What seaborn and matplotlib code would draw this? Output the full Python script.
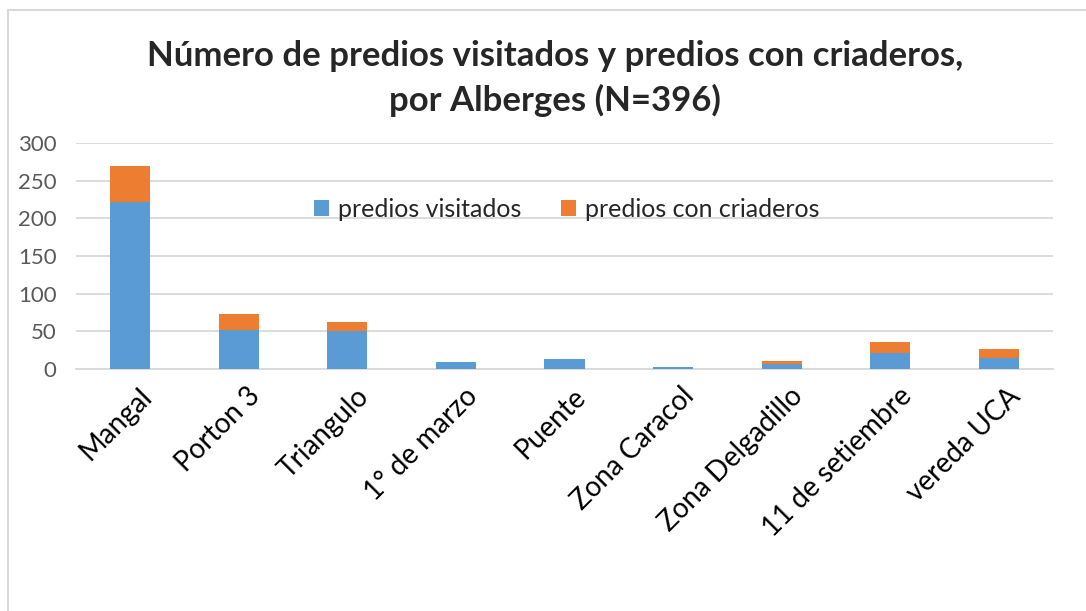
import numpy as np
import pandas as pd
import seaborn as sns
import matplotlib.pyplot as plt
from matplotlib.patches import Rectangle
from matplotlib.transforms import ScaledTranslation

albergues = ["Mangal", "Porton 3", "Triangulo", "1° de marzo", "Puente",
             "Zona Caracol", "Zona Delgadillo", "11 de setiembre", "vereda UCA"]
visitados = [222, 52, 51, 9, 13, 3, 6, 21, 14]
criaderos = [47, 21, 12, 0, 0, 0, 5, 15, 12]

azul = "#5b9bd5"
naranja = "#ed7d31"

sns.set_theme(style="white")
plt.rcParams['font.family'] = ['Lato', 'DejaVu Sans']

df = pd.DataFrame({"albergue": albergues, "visitados": visitados, "criaderos": criaderos})
df["total"] = df["visitados"] + df["criaderos"]

fig = plt.figure(figsize=(10.86, 6.11), dpi=100)
ax = fig.add_axes([76 / 1086, 1 - 369 / 611, 977 / 1086, 226 / 611])

# stacked: draw total first (orange), then the visited part on top of it
sns.barplot(data=df, x="albergue", y="total", color=naranja, width=0.37,
            saturation=1, linewidth=0, ax=ax, label="predios con criaderos")
sns.barplot(data=df, x="albergue", y="visitados", color=azul, width=0.37,
            saturation=1, linewidth=0, ax=ax, label="predios visitados")

ax.set_ylim(0, 300)
ax.set_yticks(np.arange(0, 301, 50))
ax.yaxis.grid(True, color="#d9d9d9", linewidth=1.3)
ax.set_axisbelow(True)
for s in ["top", "right", "left"]:
    ax.spines[s].set_visible(False)
ax.spines["bottom"].set_color("#d9d9d9")
ax.spines["bottom"].set_linewidth(1.3)
ax.spines["bottom"].set_zorder(0.5)
ax.set_xlabel("")
ax.set_ylabel("")
ax.tick_params(axis="y", labelsize=16, labelcolor="#595959", length=0, pad=14)
ax.tick_params(axis="x", labelsize=20, labelcolor="black", length=0, pad=10)
plt.setp(ax.get_xticklabels(), rotation=45, ha="right", rotation_mode="anchor")
shift = ScaledTranslation(8 / 100, 0, fig.dpi_scale_trans)
for lab in ax.get_xticklabels():
    lab.set_transform(lab.get_transform() + shift)

h, l = ax.get_legend_handles_labels()
ax.legend(h[::-1], l[::-1], loc="center", bbox_to_anchor=(0.502, 0.705), ncol=2,
          frameon=False, fontsize=18, handlelength=0.6, handleheight=0.6,
          handletextpad=0.35, columnspacing=1.6)

fig.text(0.511, 0.908, "Número de predios visitados y predios con criaderos,",
         ha="center", va="center", fontsize=25, fontweight="bold")
fig.text(0.511, 0.835, "por Alberges (N=396)",
         ha="center", va="center", fontsize=25, fontweight="bold")

fig.patches.append(Rectangle((8 / 1086, -0.05), 1.2, 1 - 10 / 611 + 0.05,
                             transform=fig.transFigure, fill=False,
                             edgecolor="#d9d9d9", linewidth=1.5))

fig.savefig("out.png", dpi=100)
